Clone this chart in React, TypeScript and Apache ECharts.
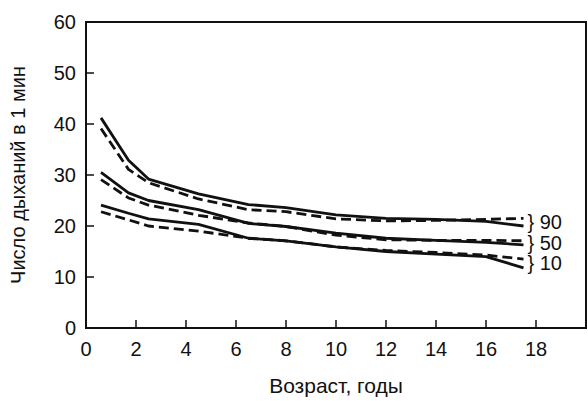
import React, { useEffect, useRef } from "react";
import * as echarts from "echarts";

const ages = [0.6, 1.7, 2.5, 4.5, 6.5, 8, 10, 12, 14, 16, 17.5];
const p90Solid = [41.2, 32.9, 29.2, 26.3, 24.2, 23.6, 22.2, 21.5, 21.3, 20.9, 20.0];
const p90Dashed = [39.1, 31.1, 28.5, 25.3, 23.2, 22.8, 21.4, 21.0, 21.1, 21.3, 21.5];
const p50Solid = [30.5, 26.5, 25.0, 23.2, 20.5, 19.9, 18.6, 17.6, 17.2, 16.8, 16.3];
const p50Dashed = [29.1, 25.5, 24.1, 22.1, 20.6, 19.9, 18.2, 17.3, 17.2, 17.2, 17.1];
const p10Solid = [24.1, 22.5, 21.4, 20.3, 17.6, 17.1, 15.9, 15.0, 14.5, 14.0, 11.8];
const p10Dashed = [22.8, 21.2, 20.0, 19.0, 17.6, 17.1, 15.9, 15.2, 14.8, 14.3, 13.5];
const percentiles = ["90", "50", "10"];
const xTicks = [0, 2, 4, 6, 8, 10, 12, 14, 16, 18];
const xName = "Возраст, годы";
const yName = "Число дыханий в 1 мин";

const FONT = "Liberation Sans, Arial, sans-serif";

export default function App() {
  const ref = useRef<HTMLDivElement>(null);
  useEffect(() => {
    if (!ref.current) return;
    const chart = echarts.init(ref.current, null, { renderer: "svg" });
    const pair = (v: number[]) => ages.map((a, i) => [a, v[i]]);
    const groups = [
      [p90Solid, p90Dashed],
      [p50Solid, p50Dashed],
      [p10Solid, p10Dashed],
    ];
    const series: any[] = [];
    groups.forEach((g, gi) => {
      const last = ages.length - 1;
      const mid = (g[0][last] + g[1][last]) / 2;
      series.push({
        type: "line",
        data: pair(g[0]),
        symbol: "none",
        lineStyle: { color: "#111", width: 2.8, type: "solid" },
        markPoint: {
          symbol: "circle",
          symbolSize: 0,
          data: [{ coord: [ages[last], mid] }],
          label: {
            show: true,
            position: "right",
            distance: 4,
            formatter: "} " + percentiles[gi],
            color: "#111",
            fontSize: 20,
            fontFamily: FONT,
          },
        },
      });
      series.push({
        type: "line",
        data: pair(g[1]),
        symbol: "none",
        lineStyle: { color: "#111", width: 2.8, type: [10, 5] },
      });
    });
    chart.setOption({
      animation: false,
      backgroundColor: "#fff",
      grid: { left: 78, right: 2, top: 22, bottom: 62, show: true, borderColor: "#111", borderWidth: 2 },
      xAxis: {
        type: "value",
        min: 0,
        max: 20,
        name: xName,
        nameLocation: "middle",
        nameGap: 47,
        nameTextStyle: { color: "#111", fontSize: 21, fontFamily: FONT },
        axisLine: { lineStyle: { color: "#111", width: 2 } },
        axisTick: { show: true, inside: true, length: 8, lineStyle: { color: "#111", width: 1.5 }, customValues: xTicks.slice(1) },
        axisLabel: { color: "#111", fontSize: 20, fontFamily: FONT, margin: 11, customValues: xTicks },
        splitLine: { show: false },
      },
      yAxis: {
        type: "value",
        min: 0,
        max: 60,
        interval: 10,
        name: yName,
        nameLocation: "middle",
        nameGap: 58,
        nameTextStyle: { color: "#111", fontSize: 20, fontFamily: FONT },
        axisLine: { lineStyle: { color: "#111", width: 2 } },
        axisTick: { show: true, inside: true, length: 8, lineStyle: { color: "#111", width: 1.5 } },
        axisLabel: { color: "#111", fontSize: 20, fontFamily: FONT, margin: 10 },
        splitLine: { show: false },
      },
      series,
    });
    return () => chart.dispose();
  }, []);
  return <div ref={ref} style={{ width: 588, height: 401, position: "absolute", left: 0, top: 0 }} />;
}
